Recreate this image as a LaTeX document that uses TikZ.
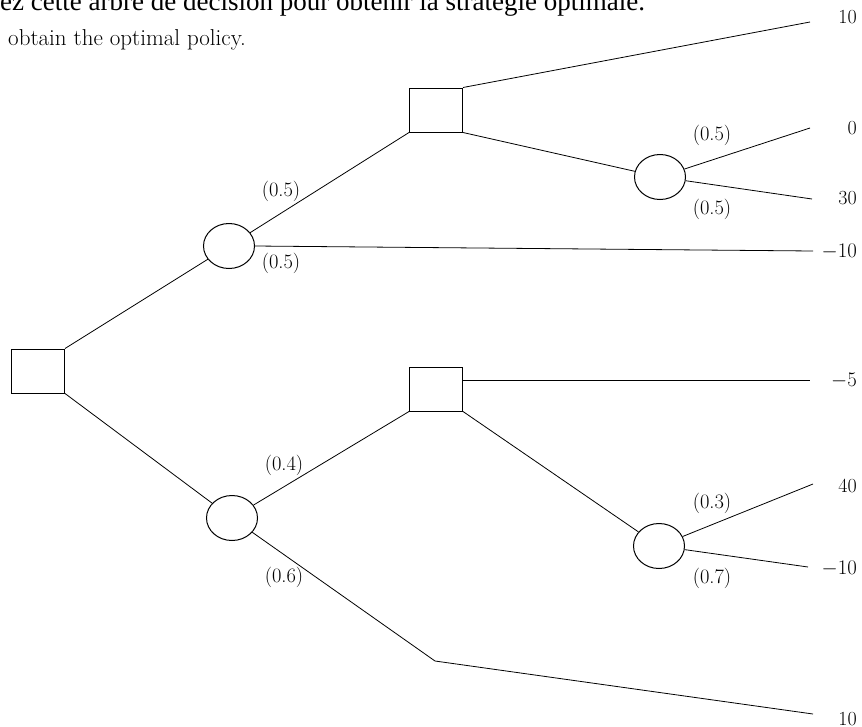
\documentclass[tikz,border=0pt]{standalone}
\usepackage{fontspec}
\newfontfamily\timesfont{Liberation Serif}
\usetikzlibrary{shapes.geometric}
\begin{document}
\begin{tikzpicture}[x=1pt,y=-1pt,
  dec/.style={draw, rectangle, line width=1pt, minimum width=53pt, minimum height=44pt, inner sep=0pt},
  chance/.style={draw, ellipse, line width=1pt, minimum width=51pt, minimum height=45pt, inner sep=0pt},
  prob/.style={font=\fontsize{20.5}{24}\selectfont, inner sep=0pt},
  val/.style={font=\fontsize{20}{24}\selectfont, anchor=east, inner sep=0pt},
  edge/.style={line width=0.8pt}]
\useasboundingbox (0,0) rectangle (862,726);

% header text
\node[anchor=base west, inner sep=0pt, font=\timesfont\fontsize{27}{30}\selectfont] (hdr) at (0,10) {ez cette arbre de décision pour obtenir la stratégie optimale.};
\node[anchor=base west, inner sep=0pt, font=\fontsize{23}{26}\selectfont] (sub) at (8,45) {obtain the optimal policy.};

% nodes
\node[dec] (root) at (38,371) {};
\node[chance] (c1) at (229,246) {};
\node[dec] (d1) at (436,110) {};
\node[chance] (c2) at (660,177) {};
\node[chance] (c3) at (232,518) {};
\node[dec] (d2) at (436,389) {};
\node[chance] (c4) at (659,546) {};

% end points
\coordinate (e1) at (810,22);
\coordinate (e2) at (810,128);
\coordinate (e3) at (812,199);
\coordinate (e4) at (813,251);
\coordinate (e5) at (810,380);
\coordinate (e6) at (813,484);
\coordinate (e7) at (808,567);
\coordinate (k8) at (435,661);
\coordinate (e8) at (813,714);

% connectors
\draw[edge] (root.north east) -- (c1);
\draw[edge] (root.south east) -- (c3);
\draw[edge] (c1) -- (d1.south west);
\draw[edge] (c1.east) -- (e4);
\draw[edge] (d1.north east) -- (e1);
\draw[edge] (d1.south east) -- (c2);
\draw[edge] (c2) -- (e2);
\draw[edge] (c2) -- (e3);
\draw[edge] (c3) -- (d2.south west);
\draw[edge] (c3) -- (k8) -- (e8);
\draw[edge] ([yshift=9pt]d2.east) -- (e5);
\draw[edge] (d2.south east) -- (c4);
\draw[edge] (c4) -- (e6);
\draw[edge] (c4) -- (e7);

% probabilities
\node[prob] (p1) at (281,191) {(0.5)};
\node[prob] (p2) at (281,263) {(0.5)};
\node[prob] (p3) at (712,135) {(0.5)};
\node[prob] (p4) at (712,209) {(0.5)};
\node[prob] (p5) at (284,465) {(0.4)};
\node[prob] (p6) at (284,577) {(0.6)};
\node[prob] (p7) at (712,503) {(0.3)};
\node[prob] (p8) at (712,578) {(0.7)};

% values
\node[val] (v1) at (857,17) {10};
\node[val] (v2) at (857,128) {0};
\node[val] (v3) at (857,198) {30};
\node[val] (v4) at (857,252) {$-10$};
\node[val] (v5) at (857,381) {$-5$};
\node[val] (v6) at (857,486) {40};
\node[val] (v7) at (857,569) {$-10$};
\node[val] (v8) at (857,719) {10};
\end{tikzpicture}
\end{document}
